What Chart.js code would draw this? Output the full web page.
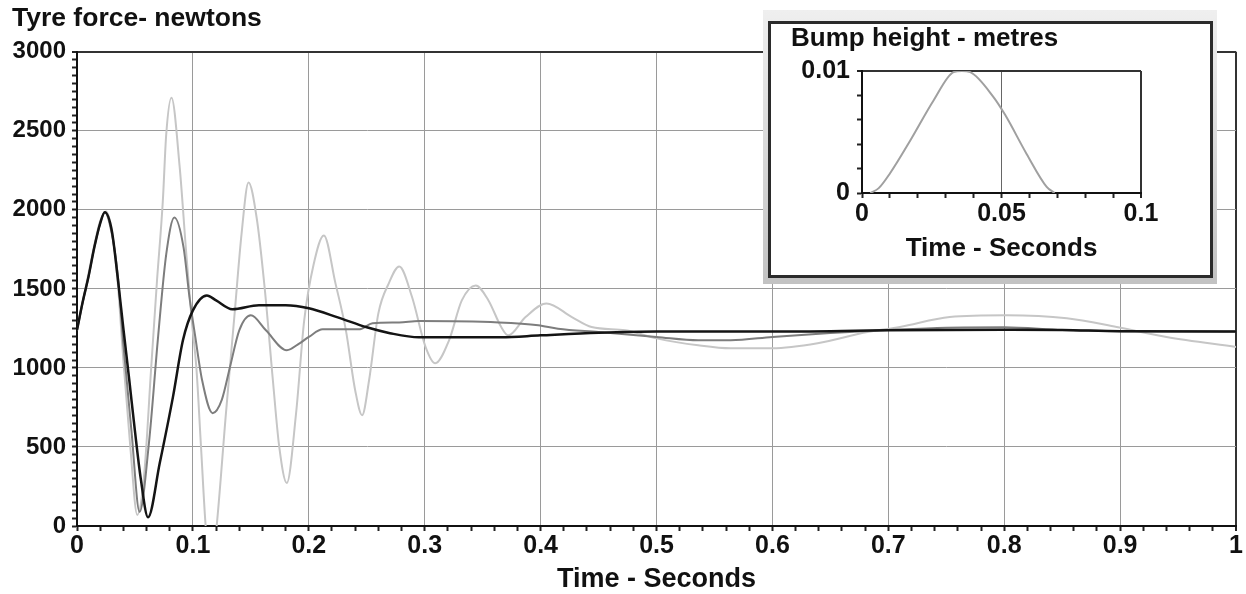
<!DOCTYPE html>
<html><head><meta charset="utf-8">
<script src="https://cdn.jsdelivr.net/npm/chart.js"></script>
<style>
html,body{margin:0;padding:0;background:#fff;}
#wrap{position:relative;width:1246px;height:594px;overflow:hidden;background:#fff;}
#main{position:absolute;left:0;top:0;width:1246px;height:594px;}
#frame{position:absolute;left:763px;top:10px;width:454px;height:274px;background:linear-gradient(#efefef,#c2c2c2);}
#inner{position:absolute;left:768px;top:21px;width:445px;height:257px;box-sizing:border-box;border:3px solid #2b2b2b;background:#fff;}
#inset{position:absolute;left:771px;top:24px;width:439px;height:251px;}
</style></head><body>
<div id="wrap">
<canvas id="main" width="1246" height="594"></canvas>
<div id="frame"></div>
<div id="inner"></div>
<canvas id="inset" width="439" height="251"></canvas>
</div>
<script>
// ---- Main chart data: tyre force (N) vs time (s) ----
const tBlack = [0, 0.005, 0.01, 0.015, 0.02, 0.024, 0.03, 0.035, 0.04, 0.045, 0.05, 0.055, 0.0613, 0.0714, 0.0828, 0.0914, 0.1, 0.112, 0.12, 0.134, 0.157, 0.18, 0.2, 0.225, 0.25, 0.27, 0.295, 0.32, 0.366, 0.4, 0.45, 0.5, 0.6, 0.7, 0.8, 0.85, 0.9, 1.0];
const fBlack = [1240, 1420, 1580, 1765, 1915, 1985, 1870, 1580, 1250, 930, 600, 300, 55, 398, 817, 1175, 1364, 1459, 1427, 1371, 1396, 1396, 1377, 1320, 1257, 1220, 1194, 1194, 1194, 1206, 1222, 1230, 1230, 1238, 1242, 1240, 1232, 1230];

const tMid = [0, 0.005, 0.01, 0.015, 0.02, 0.024, 0.03, 0.035, 0.04, 0.047, 0.054, 0.062, 0.07, 0.077, 0.084, 0.092, 0.097, 0.102, 0.108, 0.117, 0.125, 0.132, 0.14, 0.15, 0.163, 0.181, 0.192, 0.2, 0.212, 0.243, 0.255, 0.278, 0.295, 0.364, 0.398, 0.415, 0.45, 0.5, 0.536, 0.564, 0.6, 0.65, 0.7, 0.75, 0.8, 0.85, 0.9, 1.0];
const fMid = [1240, 1420, 1580, 1765, 1915, 1985, 1850, 1600, 1150, 600, 90, 520, 1200, 1720, 1952, 1760, 1450, 1200, 920, 714, 800, 1006, 1238, 1333, 1238, 1112, 1156, 1196, 1244, 1244, 1282, 1288, 1297, 1288, 1270, 1248, 1227, 1196, 1175, 1175, 1196, 1221, 1240, 1255, 1258, 1240, 1232, 1230];

const tLight = [0, 0.005, 0.01, 0.015, 0.02, 0.025, 0.03, 0.035, 0.04, 0.046, 0.052, 0.058, 0.064, 0.069, 0.074, 0.077, 0.0815, 0.0886, 0.094, 0.099, 0.103, 0.107, 0.111, 0.1155, 0.1205, 0.1285, 0.136, 0.142, 0.148, 0.155, 0.162, 0.169, 0.1745, 0.181, 0.189, 0.196, 0.204, 0.213, 0.223, 0.232, 0.24, 0.246, 0.252, 0.26, 0.269, 0.278, 0.289, 0.3007, 0.309, 0.321, 0.332, 0.344, 0.355, 0.366, 0.372, 0.387, 0.405, 0.427, 0.444, 0.473, 0.5, 0.536, 0.564, 0.6, 0.639, 0.682, 0.71, 0.753, 0.802, 0.854, 0.897, 0.94, 1.0];
const fLight = [1240, 1420, 1600, 1780, 1930, 1990, 1870, 1550, 1050, 500, 70, 330, 1000, 1550, 2050, 2480, 2710, 2270, 1750, 1300, 1000, 500, 0, -300, 0, 713, 1345, 1850, 2173, 1950, 1500, 922, 500, 272, 712, 1300, 1650, 1838, 1535, 1238, 859, 701, 922, 1345, 1535, 1642, 1450, 1133, 1029, 1175, 1427, 1522, 1427, 1259, 1206, 1322, 1408, 1322, 1259, 1238, 1187, 1143, 1124, 1124, 1156, 1227, 1259, 1322, 1333, 1314, 1259, 1196, 1133];

// ---- Inset data: bump height (m) vs time (s) ----
const tBump = [0.003, 0.006, 0.01, 0.0173, 0.0257, 0.0328, 0.0358, 0.0388, 0.047, 0.0513, 0.059, 0.0662, 0.069];
const hBump = [0, 0.0004, 0.0016, 0.0043, 0.0076, 0.0099, 0.01, 0.0099, 0.0079, 0.0064, 0.0032, 0.0005, 0];

const FONT = "'Liberation Sans', Arial, sans-serif";
const TRANSPARENT = 'rgba(0,0,0,0)';
const isMult = (v, step) => Math.abs(v / step - Math.round(v / step)) < 1e-6;
const pts = (t, f) => t.map((x, i) => ({ x: x, y: f[i] }));
const line = (t, f, color, w) => ({
  data: pts(t, f), borderColor: color, borderWidth: w, pointRadius: 0,
  cubicInterpolationMode: 'monotone', fill: false
});

new Chart(document.getElementById('main'), {
  type: 'line',
  data: { datasets: [
    line(tBlack, fBlack, '#141414', 2.5),
    line(tMid, fMid, '#7d7d7d', 2),
    line(tLight, fLight, '#c6c6c6', 2)
  ]},
  options: {
    responsive: false, animation: false, devicePixelRatio: 1,
    layout: { padding: { left: 12, right: 6, top: 0, bottom: 0 } },
    plugins: {
      legend: { display: false }, tooltip: { enabled: false },
      title: { display: true, text: 'Tyre force- newtons', align: 'start', color: '#111',
        font: { family: FONT, size: 26.5, weight: 'bold', lineHeight: 1.2 },
        padding: { top: 3, bottom: 17 } }
    },
    scales: {
      x: {
        type: 'linear', min: 0, max: 1,
        afterFit: s => { s.height = 68; },
        ticks: { stepSize: 0.02, autoSkip: false, maxRotation: 0, minRotation: 0, padding: 3, color: '#111',
          font: { family: FONT, size: 25, weight: 'bold', lineHeight: 1 },
          callback: v => isMult(v, 0.1) ? String(Math.round(v * 10) / 10) : '' },
        grid: {
          color: c => { const v = c.tick ? c.tick.value : 0; return v === 1 ? '#333' : (isMult(v, 0.1) ? '#9a9a9a' : TRANSPARENT); },
          lineWidth: c => (c.tick && c.tick.value === 1) ? 2 : 1,
          tickLength: 5, tickColor: '#222', tickWidth: 2
        },
        border: { color: '#111', width: 2 },
        title: { display: true, text: 'Time - Seconds', color: '#111',
          font: { family: FONT, size: 27, weight: 'bold', lineHeight: 1 }, padding: { top: 0, bottom: 1 } }
      },
      y: {
        min: 0, max: 3000,
        afterFit: s => { s.width = 65; },
        ticks: { stepSize: 50, autoSkip: false, padding: 6, color: '#111',
          font: { family: FONT, size: 24, weight: 'bold', lineHeight: 1 },
          callback: v => (v % 500 === 0) ? String(v) : '' },
        grid: {
          color: c => { const v = c.tick ? c.tick.value : 0; return v === 3000 ? '#333' : (v % 500 === 0 ? '#9a9a9a' : TRANSPARENT); },
          lineWidth: c => (c.tick && c.tick.value === 3000) ? 2 : 1,
          tickLength: 5, tickColor: '#222', tickWidth: 2
        },
        border: { color: '#111', width: 2 }
      }
    }
  }
});

new Chart(document.getElementById('inset'), {
  type: 'line',
  data: { datasets: [ line(tBump, hBump, '#a0a0a0', 2) ] },
  options: {
    responsive: false, animation: false, devicePixelRatio: 1,
    layout: { padding: { left: 20, right: 69, top: 0, bottom: 0 } },
    plugins: {
      legend: { display: false }, tooltip: { enabled: false },
      title: { display: true, text: 'Bump height - metres', align: 'start', color: '#111',
        font: { family: FONT, size: 26, weight: 'bold', lineHeight: 1.15 },
        padding: { top: 0, bottom: 17 } }
    },
    scales: {
      x: {
        type: 'linear', min: 0, max: 0.1,
        afterFit: s => { s.height = 82; },
        ticks: { stepSize: 0.01, autoSkip: false, maxRotation: 0, minRotation: 0, padding: 4, color: '#111',
          font: { family: FONT, size: 25, weight: 'bold', lineHeight: 1 },
          callback: v => isMult(v, 0.05) ? String(Math.round(v * 20) / 20) : '' },
        grid: {
          color: c => { const v = c.tick ? c.tick.value : 0; return isMult(v, 0.1) && v > 0 ? '#333' : (isMult(v, 0.05) ? '#666' : TRANSPARENT); },
          lineWidth: c => (c.tick && isMult(c.tick.value, 0.1) && c.tick.value > 0) ? 2 : 1,
          tickLength: 5, tickColor: '#222', tickWidth: 2
        },
        border: { color: '#111', width: 2 },
        title: { display: true, text: 'Time - Seconds', color: '#111',
          font: { family: FONT, size: 26, weight: 'bold', lineHeight: 1 }, padding: { top: 0, bottom: 13 } }
      },
      y: {
        min: 0, max: 0.01,
        afterFit: s => { s.width = 71; },
        ticks: { stepSize: 0.002, autoSkip: false, padding: 7, color: '#111',
          font: { family: FONT, size: 25, weight: 'bold', lineHeight: 1 },
          callback: v => v === 0 ? '0' : (isMult(v, 0.01) ? '0.01' : '') },
        grid: {
          color: c => { const v = c.tick ? c.tick.value : 0; return (v > 0 && isMult(v, 0.01)) ? '#333' : TRANSPARENT; },
          lineWidth: c => (c.tick && c.tick.value > 0 && isMult(c.tick.value, 0.01)) ? 2 : 1,
          tickLength: 5, tickColor: '#222', tickWidth: 2
        },
        border: { color: '#111', width: 2 }
      }
    }
  }
});
</script>
</body></html>
